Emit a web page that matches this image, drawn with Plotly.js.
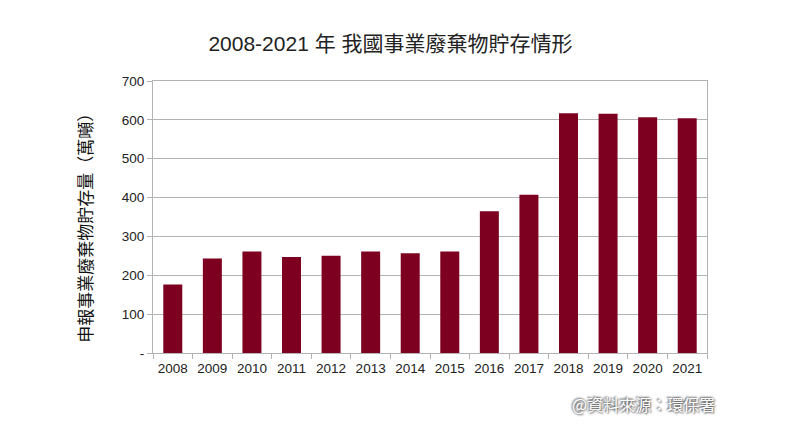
<!DOCTYPE html>
<html>
<head>
<meta charset="utf-8">
<script src="https://cdn.plot.ly/plotly-3.0.1.min.js"></script>
<style>html,body{margin:0;padding:0;background:#fff;}#chart{width:792px;height:440px;}</style>
</head>
<body>
<div id="chart"></div>
<script>
const years = ['2008','2009','2010','2011','2012','2013','2014','2015','2016','2017','2018','2019','2020','2021'];
const storage = [176, 243, 261, 247, 250, 261, 257, 261, 365, 407, 617, 616, 607, 604];
const yTickVals = [0, 100, 200, 300, 400, 500, 600, 700];
const yTickText = ['-', '100', '200', '300', '400', '500', '600', '700'];

const font = '"Liberation Sans", "Noto Sans CJK TC", sans-serif';
const cjk = '"Noto Sans CJK TC", "Liberation Sans", sans-serif';

Plotly.newPlot('chart', [{
  type: 'bar',
  x: years,
  y: storage,
  marker: {color: '#7e0021'},
  hoverinfo: 'x+y'
}], {
  width: 792, height: 440,
  margin: {l: 153, r: 85, t: 81, b: 87},
  paper_bgcolor: '#ffffff',
  plot_bgcolor: '#ffffff',
  bargap: 0.52,
  showlegend: false,
  title: {
    text: '2008-2021 年 我國事業廢棄物貯存情形',
    font: {family: font, size: 21, color: '#222'},
    x: 0.493, xanchor: 'center', y: 0.9, yanchor: 'middle'
  },
  xaxis: {
    type: 'category',
    showline: true, linecolor: '#b3b3b3', linewidth: 1, mirror: true,
    ticks: 'outside', ticklen: 5, tickcolor: '#b3b3b3', tickson: 'boundaries',
    ticklabelstandoff: 3,
    tickfont: {family: font, size: 13.5, color: '#222'},
    showgrid: false
  },
  yaxis: {
    range: [0, 700],
    tickvals: yTickVals, ticktext: yTickText,
    showline: true, linecolor: '#b3b3b3', linewidth: 1, mirror: true,
    ticks: 'outside', ticklen: 5, tickcolor: '#b3b3b3',
    showgrid: true, gridcolor: '#b3b3b3', gridwidth: 1,
    zeroline: false,
    tickfont: {family: font, size: 13.5, color: '#222'}
  },
  annotations: [{
    text: '申報事業廢棄物貯存量（萬噸）',
    textangle: -90,
    xref: 'paper', yref: 'paper', x: -0.123, y: 0.475, xanchor: 'center', yanchor: 'middle',
    showarrow: false,
    font: {family: cjk, size: 17, color: '#111'}
  }, {
    text: '@資料來源：環保署',
    xref: 'paper', yref: 'paper', x: 1.018, y: -0.1875, xanchor: 'right', yanchor: 'middle',
    showarrow: false,
    font: {family: cjk, size: 16, color: '#ffffff', shadow: '1px 1px 2px #555, -1px -1px 2px #555'}
  }]
}, {displayModeBar: false, staticPlot: true});
</script>
</body>
</html>
